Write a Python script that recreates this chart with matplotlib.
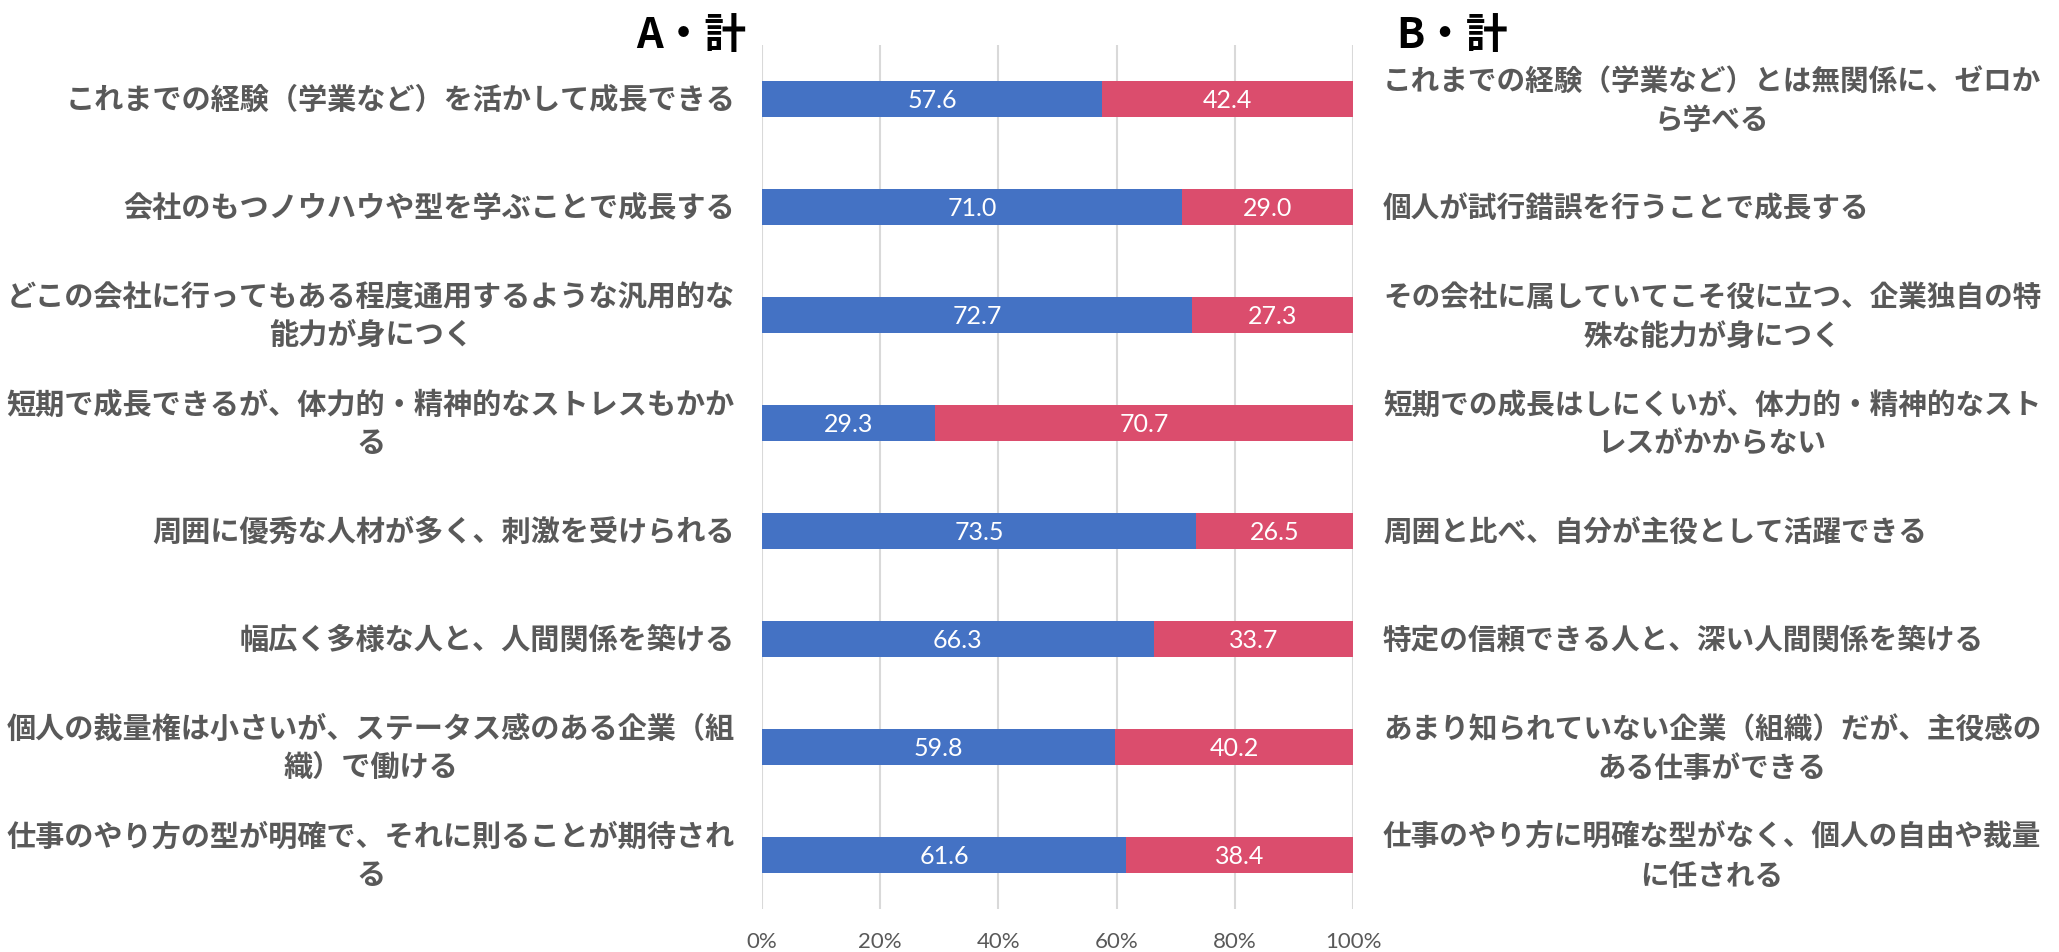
import numpy as np
import matplotlib.pyplot as plt
import matplotlib.transforms as mtransforms

plt.rcParams['font.family'] = ['Noto Sans CJK JP', 'DejaVu Sans']

# 回答データ（A・計 / B・計, %）
labels_a = [
    'これまでの経験（学業など）を活かして成長できる',
    '会社のもつノウハウや型を学ぶことで成長する',
    'どこの会社に行ってもある程度通用するような汎用的な\n能力が身につく',
    '短期で成長できるが、体力的・精神的なストレスもかか\nる',
    '周囲に優秀な人材が多く、刺激を受けられる',
    '幅広く多様な人と、人間関係を築ける',
    '個人の裁量権は小さいが、ステータス感のある企業（組\n織）で働ける',
    '仕事のやり方の型が明確で、それに則ることが期待され\nる',
]
labels_b = [
    'これまでの経験（学業など）とは無関係に、ゼロか\nら学べる',
    '個人が試行錯誤を行うことで成長する',
    'その会社に属していてこそ役に立つ、企業独自の特\n殊な能力が身につく',
    '短期での成長はしにくいが、体力的・精神的なスト\nレスがかからない',
    '周囲と比べ、自分が主役として活躍できる',
    '特定の信頼できる人と、深い人間関係を築ける',
    'あまり知られていない企業（組織）だが、主役感の\nある仕事ができる',
    '仕事のやり方に明確な型がなく、個人の自由や裁量\nに任される',
]
vals_a = [57.6, 71.0, 72.7, 29.3, 73.5, 66.3, 59.8, 61.6]
vals_b = [42.4, 29.0, 27.3, 70.7, 26.5, 33.7, 40.2, 38.4]
xticks = [0, 20, 40, 60, 80, 100]

blue = '#4472C4'
red = '#DB4D6D'
gray = '#595959'
num_font = ['Lato', 'DejaVu Sans']

fig = plt.figure(figsize=(20.59, 9.53), dpi=100)
ax = fig.add_axes([0.3701, 0.0451, 0.2870, 0.9066])

y = np.arange(len(vals_a))
ax.barh(y, vals_a, height=0.33, color=blue, zorder=3)
ax.barh(y, vals_b, left=vals_a, height=0.33, color=red, zorder=3)

for i in range(len(y)):
    ax.text(vals_a[i] / 2, y[i], f'{vals_a[i]:.1f}', ha='center', va='center',
            color='white', fontsize=18, family=num_font, zorder=4)
    ax.text(vals_a[i] + vals_b[i] / 2, y[i], f'{vals_b[i]:.1f}', ha='center', va='center',
            color='white', fontsize=18, family=num_font, zorder=4)

# 左右の項目ラベル
trans = mtransforms.blended_transform_factory(ax.transAxes, ax.transData)
for i in range(len(y)):
    ax.text(-0.0457, y[i], labels_a[i], transform=trans, ha='right', va='center',
            multialignment='center', fontsize=21, fontweight='bold', color=gray,
            linespacing=1.36)
    ax.text(1.0508, y[i], labels_b[i], transform=trans, ha='left', va='center',
            multialignment='center', fontsize=20.6, fontweight='bold', color=gray,
            linespacing=1.38)

ax.set_xlim(0, 100)
ax.set_ylim(len(y) - 0.5, -0.5)
ax.set_xticks(xticks)
ax.set_xticklabels([f'{t}%' for t in xticks], family=num_font, fontsize=16, color=gray)
ax.set_yticks([])
ax.tick_params(axis='x', length=0, pad=16)
ax.grid(axis='x', color='#D9D9D9', linewidth=1.5, zorder=0)
for s in ax.spines.values():
    s.set_visible(False)

fig.text(0.3623, 0.962, 'A・計', ha='right', va='center', fontsize=30,
         fontweight='bold', color='black')
fig.text(0.678, 0.962, 'B・計', ha='left', va='center', fontsize=30,
         fontweight='bold', color='black')

fig.savefig('out.png', dpi=100, facecolor='white')
